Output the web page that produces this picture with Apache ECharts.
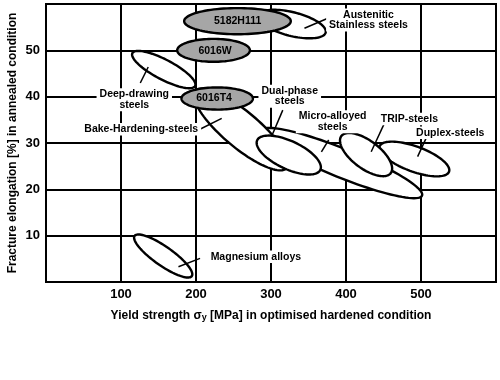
<!DOCTYPE html>
<html><head><meta charset="utf-8">
<script src="https://cdn.jsdelivr.net/npm/echarts@6/dist/echarts.min.js"></script>
<style>html,body{margin:0;padding:0;background:#fff}#c{width:500px;height:380px}</style>
</head><body><div id="c"></div>
<script>
// ---- data (axis units: MPa, %) ----
const xTicks = [0, 100, 200, 300, 400, 500, 600];
const yTicks = [0, 10, 20, 30, 40, 50, 60];
// Ellipses: major-axis end points in data units, minor/major ratio; drawn in this order
const ellipseNames  = ['Deep-drawing', 'Micro-alloyed', 'Bake-Hardening', 'Dual-phase', 'Duplex', 'TRIP', 'Magnesium', 'Austenitic', '5182H111', '6016W', '6016T4'];
const majorStartX   = [115.2, 286.9, 199.0, 281.6, 444.9, 393.8, 118.1, 282.6, 184.2, 174.9, 180.6];
const majorStartY   = [49.4,  32.7,  41.25, 30.6,  29.3,  31.5,  9.95,  57.5,  56.3,  50.0,  39.6];
const majorEndX     = [198.8, 501.4, 321.1, 365.8, 537.4, 459.7, 194.4, 372.9, 326.4, 271.9, 275.9];
const majorEndY     = [42.3,  18.65, 24.6,  24.2,  23.8,  23.5,  1.27,  53.85, 56.3,  50.0,  39.6];
const minorRatio    = [0.28,  0.165, 0.30,  0.40,  0.34,  0.45,  0.27,  0.34,  0.245, 0.315, 0.31];
const isAlloy       = [0, 0, 0, 0, 0, 0, 0, 0, 1, 1, 1];
// Labels
const labelTexts = ['5182H111', '6016W', '6016T4', 'Austenitic\nStainless steels', 'Deep-drawing\nsteels', 'Dual-phase\nsteels', 'Micro-alloyed\nsteels', 'TRIP-steels', 'Duplex-steels', 'Bake-Hardening-steels', 'Magnesium alloys'];
const labelX = [255.5, 225.4, 224.1, 430.0, 117.7, 325.0, 382.2, 484.5, 539.0, 127.0, 279.8];
const labelY = [56.2,  49.9,  39.7,  56.55, 39.35, 40.1,  34.6,  35.2,  32.2,  32.96, 5.46];
const labelBoxed = [0, 0, 0, 1, 1, 1, 1, 1, 1, 1, 1];
// Leader lines
const leaderFromX = [344.6, 125.7, 203.2, 315.7, 376.9, 451.3, 506.7, 205.4];
const leaderFromY = [54.76, 42.95, 32.8,  37.1,  30.65, 34.3,  31.0,  5.1];
const leaderToX   = [378.2, 136.3, 234.3, 300.7, 367.2, 433.6, 495.5, 176.6];
const leaderToY   = [57.1,  46.4,  35.3,  31.4,  28.1,  28.1,  27.05, 3.3];

const FONT = '"Liberation Sans", Arial, sans-serif';
const ellipseData = ellipseNames.map((n, i) => [majorStartX[i], majorStartY[i], majorEndX[i], majorEndY[i], minorRatio[i], isAlloy[i]]);
const leaderData = leaderFromX.map((v, i) => [leaderFromX[i], leaderFromY[i], leaderToX[i], leaderToY[i]]);
const labelData = labelTexts.map((t, i) => [labelX[i], labelY[i], i]);

const chart = echarts.init(document.getElementById('c'), null, {renderer: 'canvas'});
chart.setOption({
  animation: false,
  backgroundColor: '#fff',
  grid: {left: 46, right: 4, top: 4, bottom: 98, show: true, borderColor: '#000', borderWidth: 2,
    backgroundColor: 'transparent', containLabel: false, outerBoundsMode: 'none'},
  xAxis: {
    type: 'value', min: xTicks[0], max: xTicks[xTicks.length - 1], interval: 100,
    axisLine: {show: true, lineStyle: {color: '#000', width: 2}},
    axisTick: {show: false},
    splitLine: {show: true, lineStyle: {color: '#000', width: 2}},
    axisLabel: {margin: 6, color: '#000', fontSize: 13, fontWeight: 'bold', fontFamily: FONT,
      formatter: v => (v === xTicks[0] || v === xTicks[xTicks.length - 1]) ? '' : String(v)},
    name: '{a|Yield strength σ}{b|y}{a| [MPa] in optimised hardened condition}',
    nameLocation: 'middle', nameGap: 25, nameMoveOverlap: false,
    nameTextStyle: {rich: {
      a: {fontSize: 12, fontWeight: 'bold', fontFamily: FONT, color: '#000', lineHeight: 15, verticalAlign: 'bottom'},
      b: {fontSize: 9, fontWeight: 'bold', fontFamily: FONT, color: '#000', lineHeight: 15, verticalAlign: 'bottom', padding: [4, 0, 0, 0]}
    }}
  },
  yAxis: {
    type: 'value', min: yTicks[0], max: yTicks[yTicks.length - 1], interval: 10,
    axisLine: {show: true, lineStyle: {color: '#000', width: 2}},
    axisTick: {show: false},
    splitLine: {show: true, lineStyle: {color: '#000', width: 2}},
    axisLabel: {margin: 6, color: '#000', fontSize: 13, fontWeight: 'bold', fontFamily: FONT,
      formatter: v => (v === yTicks[0] || v === yTicks[yTicks.length - 1]) ? '' : String(v)},
    name: 'Fracture elongation [%] in annealed condition',
    nameLocation: 'middle', nameGap: 27, nameMoveOverlap: false,
    nameTextStyle: {fontSize: 12, fontWeight: 'bold', fontFamily: FONT, color: '#000'}
  },
  series: [
    {
      type: 'custom', silent: true, data: ellipseData, z: 2,
      renderItem: function (params, api) {
        const p1 = api.coord([api.value(0), api.value(1)]);
        const p2 = api.coord([api.value(2), api.value(3)]);
        const cx = (p1[0] + p2[0]) / 2, cy = (p1[1] + p2[1]) / 2;
        const dx = p2[0] - p1[0], dy = p2[1] - p1[1];
        const a = Math.sqrt(dx * dx + dy * dy) / 2, b = a * api.value(4);
        const th = Math.atan2(dy, dx), c = Math.cos(th), s = Math.sin(th);
        const pts = [];
        for (let k = 0; k < 96; k++) {
          const t = 2 * Math.PI * k / 96;
          const ex = a * Math.cos(t), ey = b * Math.sin(t);
          pts.push([cx + ex * c - ey * s, cy + ex * s + ey * c]);
        }
        return {type: 'polygon', shape: {points: pts},
          style: {fill: api.value(5) ? '#a6a6a6' : '#ffffff', stroke: '#000', lineWidth: 2.4}};
      }
    },
    {
      type: 'custom', silent: true, data: leaderData, z: 3,
      renderItem: function (params, api) {
        const p1 = api.coord([api.value(0), api.value(1)]);
        const p2 = api.coord([api.value(2), api.value(3)]);
        return {type: 'line', shape: {x1: p1[0], y1: p1[1], x2: p2[0], y2: p2[1]},
          style: {stroke: '#000', lineWidth: 1.5}};
      }
    },
    {
      type: 'custom', silent: true, data: labelData, z: 4,
      renderItem: function (params, api) {
        const p = api.coord([api.value(0), api.value(1)]);
        const i = api.value(2);
        return {type: 'text', x: p[0], y: p[1],
          style: {text: labelTexts[i], font: 'bold 10.5px ' + FONT, fill: '#000',
            align: 'center', verticalAlign: 'middle', lineHeight: 10.5,
            backgroundColor: labelBoxed[i] ? '#fff' : null, padding: labelBoxed[i] ? [1, 3] : 0}};
      }
    }
  ]
});
</script>
</body></html>
